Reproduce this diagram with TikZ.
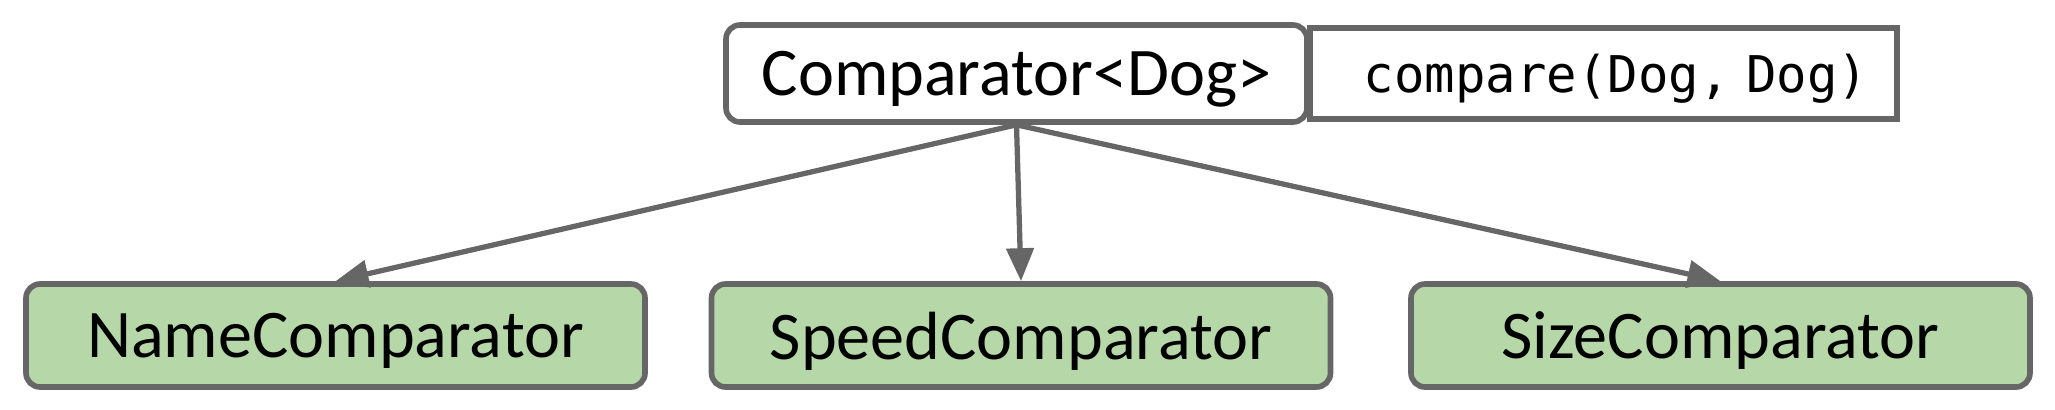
\documentclass[tikz,border=0pt]{standalone}
\usepackage{fontspec}
\setmainfont{Carlito}
\newfontfamily\codefont{DejaVu Sans Mono}
\usetikzlibrary{arrows.meta}
\definecolor{edgegray}{HTML}{666666}
\definecolor{subgreen}{HTML}{B6D7A8}

\begin{document}
\begin{tikzpicture}[>={Triangle[length=0.33cm,width=0.27cm]},line width=1.6pt,
  box/.style={draw=edgegray,rounded corners=4pt,minimum height=0.97cm,inner sep=0pt,text depth=-0.12cm,font=\fontsize{19.4}{23}\selectfont},
  subbox/.style={box,fill=subgreen,minimum width=6.19cm,minimum height=1.03cm}]
\useasboundingbox (0,0) rectangle (20.55,4.09);
\node[draw=edgegray,anchor=west,minimum height=0.91cm,text width=5.3cm,inner xsep=0.285cm,align=right,text depth=-0.1cm,
  font=\codefont\fontsize{14.4}{17}\selectfont] (method) at (13.07,3.355) {compare(Dog, Dog)};
\node[box,fill=white,minimum width=5.81cm] (cmp) at (10.165,3.355) {Comparator<Dog>};
\node[subbox] (name) at (3.355,0.735) {NameComparator};
\node[subbox] (speed) at (10.21,0.735) {SpeedComparator};
\node[subbox] (size) at (17.205,0.735) {SizeComparator};
\draw[->,edgegray,line width=1.5pt] (cmp.south) -- (name.north);
\draw[->,edgegray,line width=1.5pt] (cmp.south) -- (speed.north);
\draw[->,edgegray,line width=1.5pt] (cmp.south) -- (size.north);
\end{tikzpicture}
\end{document}
